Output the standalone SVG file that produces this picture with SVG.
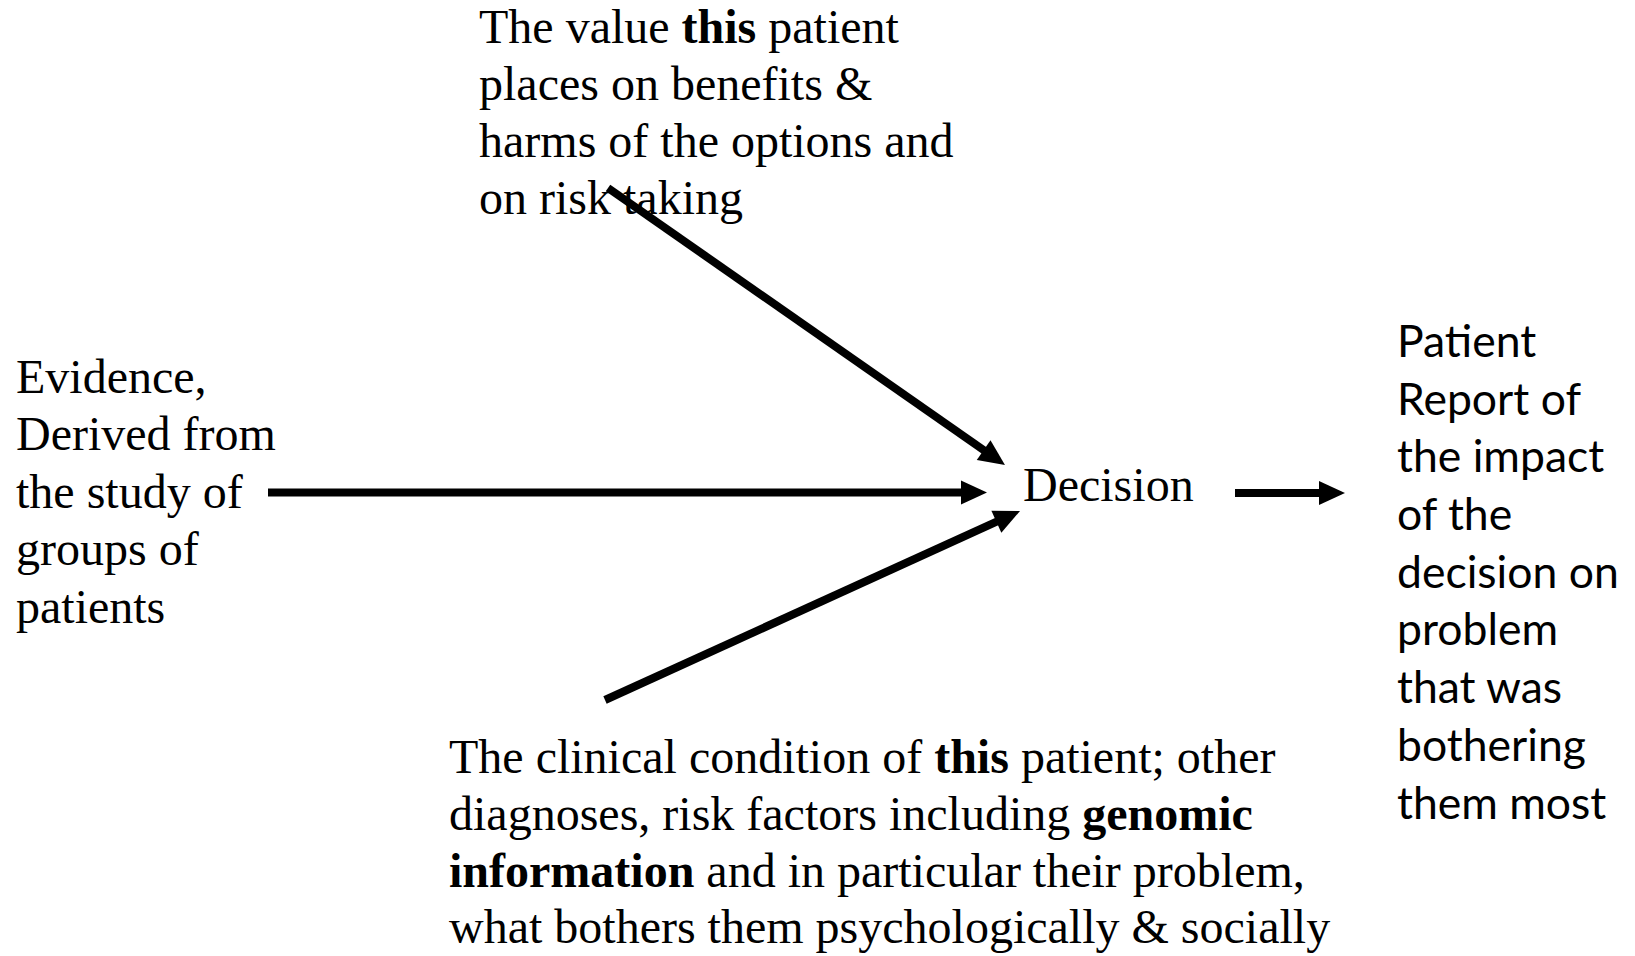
<svg xmlns="http://www.w3.org/2000/svg" width="1635" height="956" viewBox="0 0 1635 956">
<style>
.serif{font-family:"Liberation Serif","Times New Roman",serif;font-size:48px;fill:#000}
.sans{font-family:Lato,"Liberation Sans",sans-serif;font-size:44.5px;fill:#000}
.b{font-weight:bold}
.conn{stroke:#000;stroke-width:8;fill:none;marker-end:url(#ah)}
</style>
<defs>
<marker id="ah" markerUnits="userSpaceOnUse" markerWidth="26" markerHeight="24" refX="13" refY="12" orient="auto" overflow="visible">
<path d="M0,0 L26,12 L0,24 z" fill="#000"/>
</marker>
</defs>
<rect width="1635" height="956" fill="#fff"/>
<g id="values">
<text class="serif" x="479" y="43">The value <tspan class="b">this</tspan> patient</text>
<text class="serif" x="479" y="100">places on benefits &amp;</text>
<text class="serif" x="479" y="157">harms of the options and</text>
<text class="serif" x="479" y="214">on risk taking</text>
</g>
<g id="evidence">
<text class="serif" x="16" y="393">Evidence,</text>
<text class="serif" x="16" y="450">Derived from</text>
<text class="serif" x="16" y="508">the study of</text>
<text class="serif" x="16" y="565">groups of</text>
<text class="serif" x="16" y="623">patients</text>
</g>
<g id="decision">
<text class="serif" x="1023" y="501">Decision</text>
</g>
<g id="clinical">
<text class="serif" x="449" y="773">The clinical condition of <tspan class="b">this</tspan> patient; other</text>
<text class="serif" x="449" y="830">diagnoses, risk factors including <tspan class="b">genomic</tspan></text>
<text class="serif" x="449" y="887"><tspan class="b">information</tspan> and in particular their problem,</text>
<text class="serif" x="449" y="943">what bothers them psychologically &amp; socially</text>
</g>
<g id="report">
<text class="sans" x="1397" y="357">Patient</text>
<text class="sans" x="1397" y="415">Report of</text>
<text class="sans" x="1397" y="472">the impact</text>
<text class="sans" x="1397" y="530">of the</text>
<text class="sans" x="1397" y="588">decision on</text>
<text class="sans" x="1397" y="645">problem</text>
<text class="sans" x="1397" y="703">that was</text>
<text class="sans" x="1397" y="761">bothering</text>
<text class="sans" x="1397" y="819">them most</text>
</g>
<g id="connectors">
<line class="conn" x1="608" y1="188" x2="994.3" y2="457.5"/>
<line class="conn" x1="268" y1="492.5" x2="974" y2="492.5"/>
<line class="conn" x1="605" y1="700" x2="1008.2" y2="516.4"/>
<line class="conn" x1="1235" y1="493" x2="1332" y2="493"/>
</g>
</svg>
